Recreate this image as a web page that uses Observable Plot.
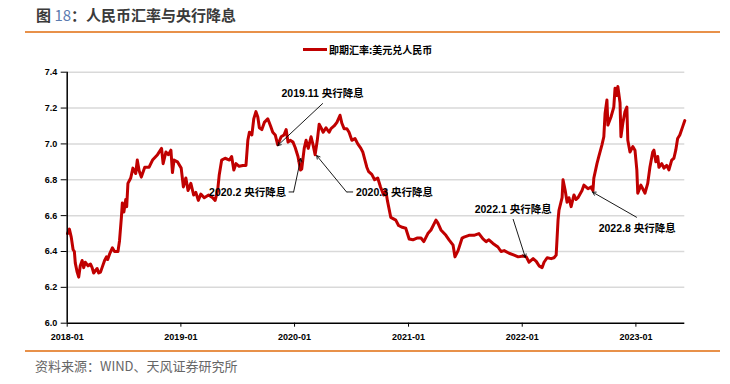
<!DOCTYPE html>
<html>
<head>
<meta charset="utf-8">
<script src="https://cdn.jsdelivr.net/npm/d3@7"></script>
<script src="https://cdn.jsdelivr.net/npm/@observablehq/plot@0.6"></script>
<style>
  html, body { margin: 0; padding: 0; background: #fff; }
  body { width: 730px; height: 384px; position: relative; overflow: hidden;
         font-family: "Liberation Sans", "Noto Sans CJK SC", sans-serif; }
  #title { position: absolute; left: 36px; top: 4px; line-height: 22px; font-size: 15px; font-weight: bold;
           color: #3a3a3a; font-family: "Noto Sans CJK SC", sans-serif; white-space: nowrap; }
  #title .num { color: #5b7bb0; font-weight: normal; }
  .rule { position: absolute; left: 25px; width: 695px; height: 1.5px; background: #E8914A; }
  #legend { position: absolute; left: 303px; top: 42px; height: 14px; display: flex; align-items: center;
            font-size: 10px; font-weight: bold; color: #000; font-family: "Noto Sans CJK SC", sans-serif; white-space: nowrap; }
  #legend .sw { display: inline-block; width: 24px; height: 3px; background: #C00000; margin-right: 2px; }
  #chart { position: absolute; left: 0; top: 60px; }
  #source { position: absolute; left: 35px; top: 357px; line-height: 18px; font-size: 13px; color: #666;
            font-family: "Noto Sans CJK SC", sans-serif; white-space: nowrap; }
</style>
</head>
<body>
<div id="title">图 <span class="num">18</span>：人民币汇率与央行降息</div>
<div class="rule" style="top:31px"></div>
<div id="legend"><span class="sw"></span><span>即期汇率:美元兑人民币</span></div>
<div id="chart"></div>
<div class="rule" style="top:350px"></div>
<div id="source">资料来源：WIND、天风证券研究所</div>
<script>
// ---- data ----
const seriesName = "即期汇率:美元兑人民币";
const dates = [
  "2018-01-02","2018-01-08","2018-01-14","2018-01-20","2018-01-24","2018-01-27","2018-02-02","2018-02-07",
  "2018-02-12","2018-02-18","2018-02-23","2018-02-28","2018-03-09","2018-03-17","2018-03-22","2018-03-27",
  "2018-04-07","2018-04-12","2018-04-18","2018-04-23","2018-05-01","2018-05-07","2018-05-11","2018-05-18",
  "2018-05-26","2018-06-02","2018-06-13","2018-06-18","2018-06-24","2018-06-27","2018-07-02","2018-07-08",
  "2018-07-11","2018-07-15","2018-07-24","2018-07-31","2018-08-09","2018-08-14","2018-08-20","2018-08-27",
  "2018-09-07","2018-09-21","2018-10-02","2018-10-18","2018-10-31","2018-11-05","2018-11-14","2018-11-22",
  "2018-11-30","2018-12-05","2018-12-10","2018-12-21",
  "2019-01-02","2019-01-09","2019-01-17","2019-01-24","2019-02-02","2019-02-11","2019-02-18","2019-02-26",
  "2019-03-06","2019-03-17","2019-03-31","2019-04-13","2019-04-21","2019-04-29","2019-05-04","2019-05-12",
  "2019-05-23","2019-06-06","2019-06-13","2019-06-20","2019-06-27","2019-07-07","2019-07-19","2019-07-29",
  "2019-08-04","2019-08-09","2019-08-17","2019-08-23","2019-08-30","2019-09-05","2019-09-10","2019-09-18",
  "2019-09-26","2019-10-07","2019-10-16","2019-10-23","2019-10-31","2019-11-08","2019-11-19","2019-11-28",
  "2019-12-05","2019-12-11","2019-12-18","2019-12-27",
  "2020-01-03","2020-01-12","2020-01-20","2020-01-24","2020-02-01","2020-02-07","2020-02-14","2020-02-23",
  "2020-03-01","2020-03-07","2020-03-14","2020-03-20","2020-03-26","2020-04-02","2020-04-11","2020-04-21",
  "2020-04-27","2020-05-07","2020-05-16","2020-05-26","2020-06-01","2020-06-08","2020-06-17","2020-06-24",
  "2020-07-03","2020-07-13","2020-07-22","2020-08-01","2020-08-07","2020-08-14","2020-08-20","2020-08-26",
  "2020-09-05","2020-09-14","2020-09-24","2020-10-03","2020-10-13","2020-10-20","2020-10-25","2020-11-05",
  "2020-11-21","2020-11-30","2020-12-12","2020-12-23",
  "2021-01-03","2021-01-15","2021-01-28","2021-02-10","2021-02-19","2021-03-04","2021-03-14","2021-03-30",
  "2021-04-05","2021-04-15","2021-05-01","2021-05-11","2021-05-24","2021-05-30","2021-06-09","2021-06-22",
  "2021-06-28","2021-07-14","2021-07-30","2021-08-15","2021-08-28","2021-09-07","2021-09-16","2021-09-29",
  "2021-10-15","2021-10-25","2021-11-04","2021-11-20","2021-12-06","2021-12-19",
  "2022-01-04","2022-01-14","2022-01-23","2022-02-05","2022-02-15","2022-02-24","2022-03-06","2022-03-12",
  "2022-03-22","2022-04-04","2022-04-13","2022-04-20","2022-04-26","2022-04-29","2022-05-09","2022-05-12",
  "2022-05-19","2022-05-25","2022-05-31","2022-06-07","2022-06-16","2022-06-23","2022-06-29","2022-07-12",
  "2022-07-18","2022-07-31","2022-08-10","2022-08-16","2022-08-19","2022-08-29","2022-09-04","2022-09-14",
  "2022-09-20","2022-09-24","2022-09-30","2022-10-03","2022-10-13","2022-10-22","2022-10-26","2022-11-01",
  "2022-11-04","2022-11-11","2022-11-14","2022-11-20","2022-11-27","2022-12-03","2022-12-06","2022-12-13",
  "2022-12-22","2022-12-29",
  "2023-01-04","2023-01-07","2023-01-17","2023-01-23","2023-01-30","2023-02-08","2023-02-15","2023-02-24",
  "2023-02-28","2023-03-06","2023-03-12","2023-03-16","2023-03-25","2023-04-01","2023-04-10","2023-04-17",
  "2023-04-26","2023-05-03","2023-05-09","2023-05-15","2023-05-22","2023-05-31","2023-06-07"
];
const values = [
  6.50,6.525,6.48,6.41,6.40,6.335,6.285,6.257,
  6.32,6.35,6.31,6.34,6.32,6.33,6.31,6.28,
  6.305,6.28,6.285,6.31,6.35,6.37,6.355,6.39,
  6.42,6.40,6.40,6.46,6.59,6.67,6.62,6.69,
  6.65,6.78,6.81,6.865,6.835,6.91,6.85,6.815,
  6.87,6.87,6.91,6.94,6.975,6.89,6.955,6.94,
  6.965,6.84,6.91,6.90,
  6.865,6.76,6.81,6.74,6.78,6.715,6.73,6.685,
  6.72,6.70,6.715,6.70,6.685,6.74,6.825,6.91,
  6.92,6.91,6.93,6.855,6.89,6.875,6.88,6.88,
  7.02,7.065,7.05,7.14,7.18,7.15,7.09,7.08,
  7.12,7.14,7.10,7.065,7.05,6.995,7.04,7.05,
  7.08,7.01,7.02,7.01,
  6.98,6.93,6.855,6.86,6.975,7.02,6.975,7.04,
  6.99,6.94,7.02,7.11,7.09,7.065,7.09,7.065,
  7.085,7.10,7.12,7.16,7.115,7.085,7.085,7.065,
  7.02,7.03,7.00,6.975,6.955,6.91,6.87,6.845,
  6.83,6.80,6.81,6.76,6.715,6.74,6.685,6.59,
  6.575,6.545,6.535,6.53,
  6.47,6.465,6.475,6.475,6.455,6.50,6.52,6.575,
  6.56,6.52,6.49,6.465,6.435,6.37,6.405,6.475,
  6.48,6.49,6.49,6.50,6.47,6.455,6.465,6.445,
  6.425,6.40,6.405,6.39,6.38,6.37,
  6.375,6.37,6.34,6.36,6.345,6.32,6.31,6.34,
  6.365,6.36,6.365,6.38,6.575,6.63,6.70,6.80,
  6.74,6.675,6.70,6.65,6.715,6.69,6.70,6.74,
  6.77,6.75,6.76,6.74,6.81,6.89,6.93,6.995,
  7.04,7.17,7.245,7.105,7.15,7.205,7.31,7.27,
  7.32,7.23,7.04,7.115,7.18,7.205,7.02,6.955,
  6.985,6.965,
  6.855,6.725,6.77,6.75,6.725,6.78,6.87,6.955,
  6.965,6.90,6.93,6.87,6.89,6.865,6.88,6.855,
  6.91,6.92,6.965,7.03,7.05,7.095,7.13
];
const xTickLabels = ["2018-01","2019-01","2020-01","2021-01","2022-01","2023-01"];
const yTickValues = [6.0, 6.2, 6.4, 6.6, 6.8, 7.0, 7.2, 7.4];
const xDomain = ["2018-01-01", "2023-06-07"];

// annotations: label, arrow tip (date, value), arrow tail (date, value), label anchor (date, value)
const annLabels     = ["2019.11 央行降息", "2020.2 央行降息", "2020.3 央行降息", "2022.1 央行降息", "2022.8 央行降息"];
const annTipDates   = ["2019-11-08", "2020-01-21", "2020-03-12", "2022-01-11", "2022-08-15"];
const annTipValues  = [6.991, 6.919, 6.935, 6.367, 6.731];
const annTailDates  = ["2020-03-31", "2019-12-29", "2020-06-16", "2021-12-03", "2023-01-03"];
const annTailValues = [7.225, 6.732, 6.732, 6.579, 6.591];
const annTextDates  = ["2020-03-31", "2019-12-05", "2020-07-16", "2021-12-03", "2023-01-05"];
const annTextValues = [7.28, 6.727, 6.727, 6.634, 6.53];
const annAnchors    = ["middle", "end", "start", "middle", "middle"];
// short horizontal leader stubs (for the two elbowed connectors)
const stubStartDates = ["2019-12-13", "2020-07-07"];
const stubEndDates   = ["2019-12-29", "2020-06-16"];
const stubValues     = [6.732, 6.732];

// ---- build tables ----
const P = d3.utcParse("%Y-%m-%d");
const series = dates.map((d, i) => ({date: P(d), value: values[i]}));
const xTicks = xTickLabels.map(s => d3.utcParse("%Y-%m")(s));
const ann = annLabels.map((label, i) => ({
  label,
  tipDate: P(annTipDates[i]), tipValue: annTipValues[i],
  tailDate: P(annTailDates[i]), tailValue: annTailValues[i],
  textDate: P(annTextDates[i]), textValue: annTextValues[i],
  anchor: annAnchors[i]
}));
const stubs = stubValues.map((v, i) => ({x1: P(stubStartDates[i]), x2: P(stubEndDates[i]), y: v}));
const fontStack = "'Liberation Sans', 'Noto Sans CJK SC', sans-serif";

const textMarks = ["start", "middle", "end"].map(a =>
  Plot.text(ann.filter(d => d.anchor === a), {
    x: "textDate", y: "textValue", text: "label", textAnchor: a, lineAnchor: "middle",
    fontSize: 10.5, fontWeight: "bold", fill: "#000", fontFamily: fontStack
  })
);

const chart = Plot.plot({
  width: 730,
  height: 285,
  marginLeft: 66.7,
  marginRight: 45.7,
  marginTop: 11.7,
  marginBottom: 22.3,
  style: {fontFamily: fontStack, fontSize: "9px", background: "transparent", color: "#000", overflow: "visible"},
  x: {type: "utc", domain: xDomain.map(P)},
  y: {domain: [6.0, 7.4]},
  marks: [
    Plot.ruleY(yTickValues.slice(1), {stroke: "#d9d9d9", strokeWidth: 1.5}),
    Plot.line(series, {x: "date", y: "value", stroke: "#C00000", strokeWidth: 3, strokeLinejoin: "round", strokeLinecap: "round"}),
    Plot.ruleX([P(xDomain[0])], {y1: 6.0, y2: 7.4, stroke: "#000", strokeWidth: 1.5}),
    Plot.ruleY([6.0], {stroke: "#000", strokeWidth: 1.5}),
    Plot.axisX(xTicks, {tickFormat: d3.utcFormat("%Y-%m"), tickSize: 4, tickPadding: 6, label: null,
      fontWeight: "bold", fontSize: 9, stroke: "#000", fill: "#000"}),
    Plot.axisY(yTickValues, {tickFormat: d => d.toFixed(1), tickSize: 6, tickPadding: 4, label: null,
      fontWeight: "bold", fontSize: 9, stroke: "#000", fill: "#000"}),
    Plot.link(stubs, {x1: "x1", x2: "x2", y1: "y", y2: "y", stroke: "#000", strokeWidth: 0.9}),
    Plot.arrow(ann, {x1: "tailDate", y1: "tailValue", x2: "tipDate", y2: "tipValue",
      stroke: "#000", strokeWidth: 0.9, headLength: 6}),
    ...textMarks
  ]
});
document.getElementById("chart").append(chart);
</script>
</body>
</html>
